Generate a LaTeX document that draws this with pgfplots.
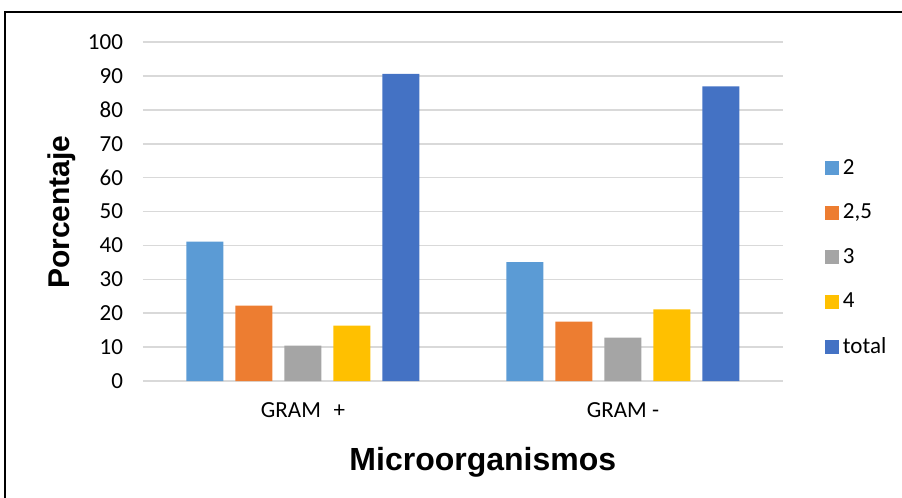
\documentclass[border=0pt]{standalone}
\usepackage{fontspec}
\setmainfont{Carlito}
\newfontfamily\arialfont{Liberation Sans}
\usepackage{pgfplots}
\pgfplotsset{compat=1.18}
\definecolor{cA}{HTML}{5B9BD5}
\definecolor{cB}{HTML}{ED7D31}
\definecolor{cC}{HTML}{A5A5A5}
\definecolor{cD}{HTML}{FFC000}
\definecolor{cE}{HTML}{4472C4}
\definecolor{gridc}{HTML}{D9D9D9}
\begin{document}
\begin{tikzpicture}
\useasboundingbox (0pt,0pt) rectangle (451pt,-249pt);
\draw[line width=1pt] (2.5pt,-249pt) -- (2.5pt,-6pt) -- (451pt,-6pt);
\begin{axis}[
  at={(71.5pt,-190.5pt)}, anchor=south west,
  scale only axis, width=320pt, height=169.5pt,
  xmin=-0.5, xmax=1.5, ymin=0, ymax=100,
  ybar=6pt, bar width=18.5pt,
  xtick={0,1}, xticklabels={GRAM\hspace{0.55em}+, GRAM -},
  ytick={0,10,...,100},
  major tick length=0pt,
  axis line style={draw=none},
  ymajorgrids, grid style={gridc, line width=0.8pt},
  /pgf/number format/assume math mode=true,
  tick label style={font=\fontsize{11.5}{13}\selectfont, black},
  yticklabel style={xshift=-6.5pt},
  xticklabel style={yshift=-7.5pt},
  xlabel={Microorganismos}, ylabel={Porcentaje},
  xlabel style={font=\arialfont\bfseries\fontsize{16}{18}\selectfont, at={(axis description cs:0.531,-0.239)}, anchor=center},
  ylabel style={font=\arialfont\bfseries\fontsize{15}{18}\selectfont, at={(axis description cs:-0.1266,0.4985)}, anchor=center},
  legend style={draw=none, at={(1.065,0.364)}, anchor=west, font=\fontsize{11.5}{13}\selectfont, row sep=9.3pt, inner sep=0pt},
  legend cell align=left,
  legend image code/.code={\fill[#1] (0pt,-3.5pt) rectangle (7pt,3.5pt);},
]
\addplot[fill=cA, draw=none] coordinates {(0,41.1) (1,35.1)};
\addplot[fill=cB, draw=none] coordinates {(0,22.2) (1,17.5)};
\addplot[fill=cC, draw=none] coordinates {(0,10.4) (1,12.8)};
\addplot[fill=cD, draw=none] coordinates {(0,16.3) (1,21.1)};
\addplot[fill=cE, draw=none] coordinates {(0,90.6) (1,86.9)};
\legend{2, {2,5}, 3, 4, total}
\end{axis}
\end{tikzpicture}
\end{document}
